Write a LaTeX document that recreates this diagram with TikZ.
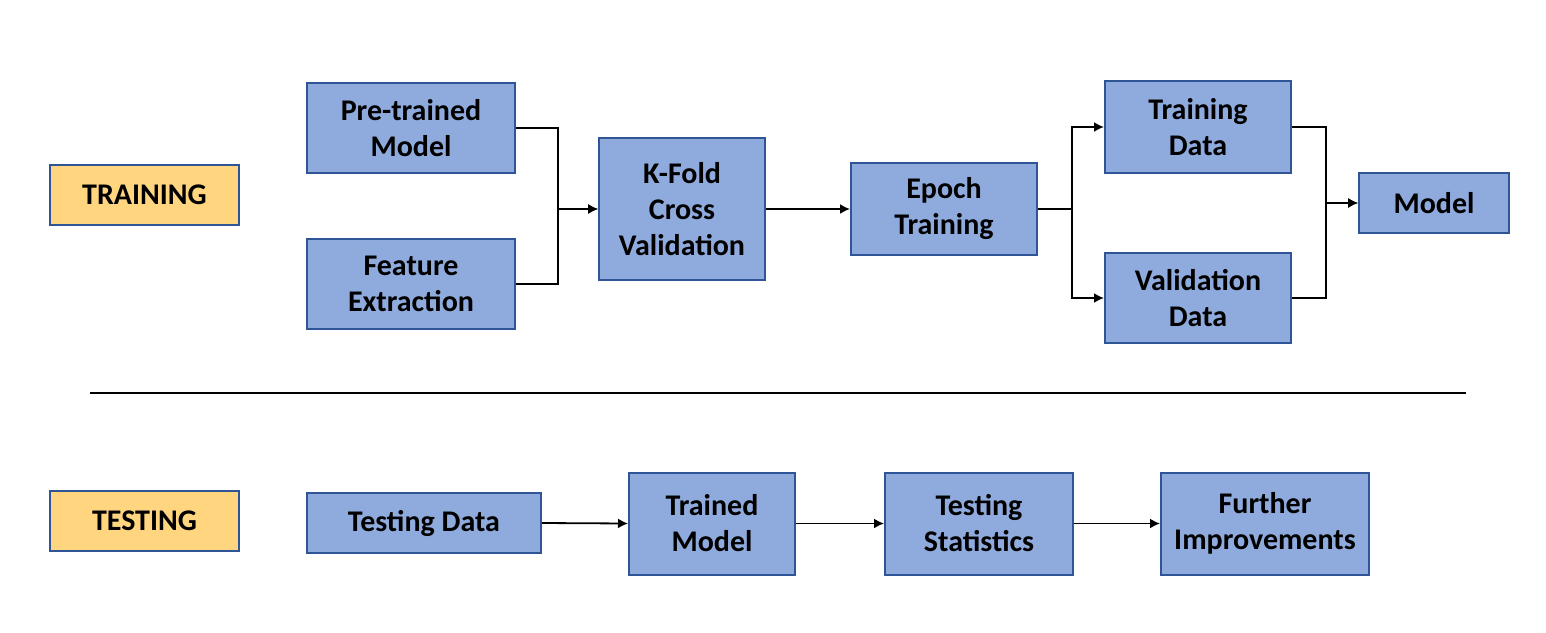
\documentclass[tikz,border=0pt]{standalone}
\usepackage{fontspec}
\setmainfont{Carlito}
\usetikzlibrary{arrows.meta}
\definecolor{boxblue}{HTML}{8FAADC}
\definecolor{edgeblue}{HTML}{2F5597}
\definecolor{boxyellow}{HTML}{FFD580}
\begin{document}
\begin{tikzpicture}[x=0.5pt,y=-0.5pt,
  base/.style={draw=edgeblue, line width=1pt, align=center, inner sep=0pt,
    font=\fontsize{15}{18}\selectfont\bfseries},
  bluebox/.style={base, fill=boxblue},
  phasebox/.style={base, fill=boxyellow},
  sz/.style 2 args={minimum width=#1*0.5pt, minimum height=#2*0.5pt},
  conn/.style={line width=0.9pt, -{Latex[length=5pt,width=5pt]}},
  plain/.style={line width=0.9pt}]
\useasboundingbox (0,0) rectangle (1546,632);
% training row
\node[phasebox, sz={189}{60}] (training) at (144.5,195) {TRAINING};
\node[bluebox, sz={208}{90}] (pre) at (411,128) {Pre-trained\\Model};
\node[bluebox, sz={208}{90}] (feat) at (411,284) {Feature\\Extraction};
\node[bluebox, sz={166}{142}] (kfold) at (682,209) {K-Fold\\Cross\\Validation};
\node[bluebox, sz={186}{92}] (epoch) at (944,209) {Epoch\\Training};
\node[bluebox, sz={186}{92}] (tdata) at (1198,127) {Training\\Data};
\node[bluebox, sz={186}{90}] (vdata) at (1198,298) {Validation\\Data};
\node[bluebox, sz={150}{60}] (model) at (1434,203) {Model};
\draw[conn] (pre.east) -- ++(42,0) |- (kfold.west);
\draw[conn] (feat.east) -- ++(42,0) |- (kfold.west);
\draw[conn] (kfold.east) -- (epoch.west);
\draw[conn] (epoch.east) -- ++(34,0) |- (tdata.west);
\draw[conn] (epoch.east) -- ++(34,0) |- (vdata.west);
\draw[conn] (tdata.east) -- ++(34,0) |- (model.west);
\draw[conn] (vdata.east) -- ++(34,0) |- (model.west);
% divider
\coordinate (d1) at (90,393);
\coordinate (d2) at (1466,393);
\draw[plain] (d1) -- (d2);
% testing row
\node[phasebox, sz={189}{60}] (testing) at (144.5,521) {TESTING};
\node[bluebox, sz={234}{60}] (testdata) at (424,523) {Testing Data};
\node[bluebox, sz={166}{102}] (trained) at (712,523.5) {Trained\\Model};
\node[bluebox, sz={188}{102}] (stats) at (979,523.5) {Testing\\Statistics};
\node[bluebox, sz={208}{102}] (further) at (1265,523.5) {Further\\Improvements};
\draw[conn] (testdata.east) -- (trained.west);
\draw[conn] (trained.east) -- (stats.west);
\draw[conn] (stats.east) -- (further.west);
\end{tikzpicture}
\end{document}
